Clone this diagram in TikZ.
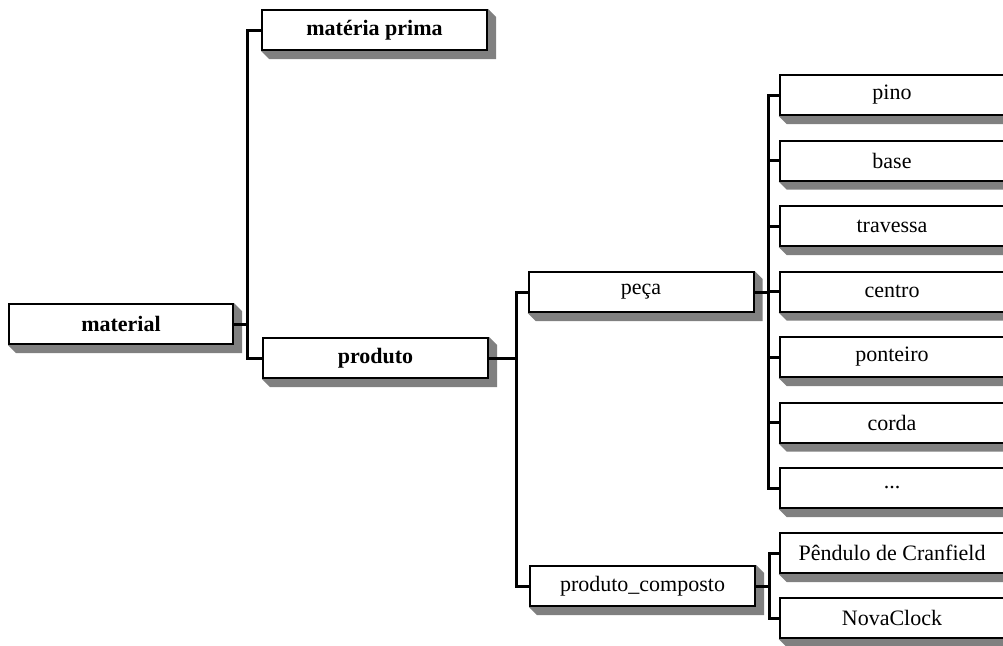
\documentclass[tikz,border=0pt]{standalone}
\usepackage{fontspec}
\setmainfont{Liberation Serif}
\usepackage{tikz}
\usetikzlibrary{positioning,backgrounds}

\begin{document}
\begin{tikzpicture}[x=1pt, y=-1pt, every node/.style={font=\fontsize{22}{26}\selectfont}]

    % styles for the class boxes and the tree links
    \tikzset{
        classbox/.style={draw=black, fill=white, line width=2pt, minimum width=225pt, minimum height=40pt, inner sep=0pt, align=center},
        rootbox/.style={classbox, font=\fontsize{22}{26}\selectfont\bfseries},
        link/.style={draw=black, line width=3pt},
        extrude/.style={fill=black!50}
    }

    \useasboundingbox (0,0) rectangle (1003,645);

    % first level
    \node[rootbox, minimum width=224pt] (material) at (121,324) {material};
    \node[rootbox] (materiaprima) at (374.5,30) {matéria prima};
    \node[rootbox] (produto) at (375.5,358) {produto};

    % second level
    \node[classbox] (peca) at (641,292) {peça};
    \node[classbox] (composto) at (642.5,586) {produto\_composto};

    % parts
    \node[classbox] (pino) at (892,95) {pino};
    \node[classbox] (base) at (892,160.5) {base};
    \node[classbox] (travessa) at (892,226) {travessa};
    \node[classbox] (centro) at (892,291.5) {centro};
    \node[classbox] (ponteiro) at (892,357) {ponteiro};
    \node[classbox] (corda) at (892,422.5) {corda};
    \node[classbox] (outros) at (892,488) {...};

    % composite products
    \node[classbox] (pendulo) at (892,553) {Pêndulo de Cranfield};
    \node[classbox] (novaclock) at (892,618) {NovaClock};

    % 3D shading behind every box
    \begin{scope}[on background layer]
        \foreach \n in {material,materiaprima,produto,peca,composto,pino,base,travessa,centro,ponteiro,corda,outros,pendulo,novaclock}
            \fill[extrude] (\n.north east) -- ++(8,8) -- ([shift={(8,8)}]\n.south east) -- ([shift={(8,8)}]\n.south west) -- (\n.south west) -- (\n.south east) -- cycle;
    \end{scope}

    % junctions
    \coordinate (j1) at (247,324);
    \coordinate (j2) at (516,358);
    \coordinate (j3) at (768,292);
    \coordinate (j4) at (769,586);

    % tree links
    \draw[link] (material.east) -- (j1);
    \draw[link] (materiaprima.west) -| (j1) |- (produto.west);

    \draw[link] (produto.east) -- (j2);
    \draw[link] (peca.west) -| (j2) |- (composto.west);

    \draw[link] (peca.east) -- (j3);
    \draw[link] (pino.west) -| (j3) |- (outros.west);
    \foreach \n in {base,travessa,centro,ponteiro,corda}
        \draw[link] (j3 |- \n.west) -- (\n.west);

    \draw[link] (composto.east) -- (j4);
    \draw[link] (pendulo.west) -| (j4) |- (novaclock.west);

\end{tikzpicture}
\end{document}
